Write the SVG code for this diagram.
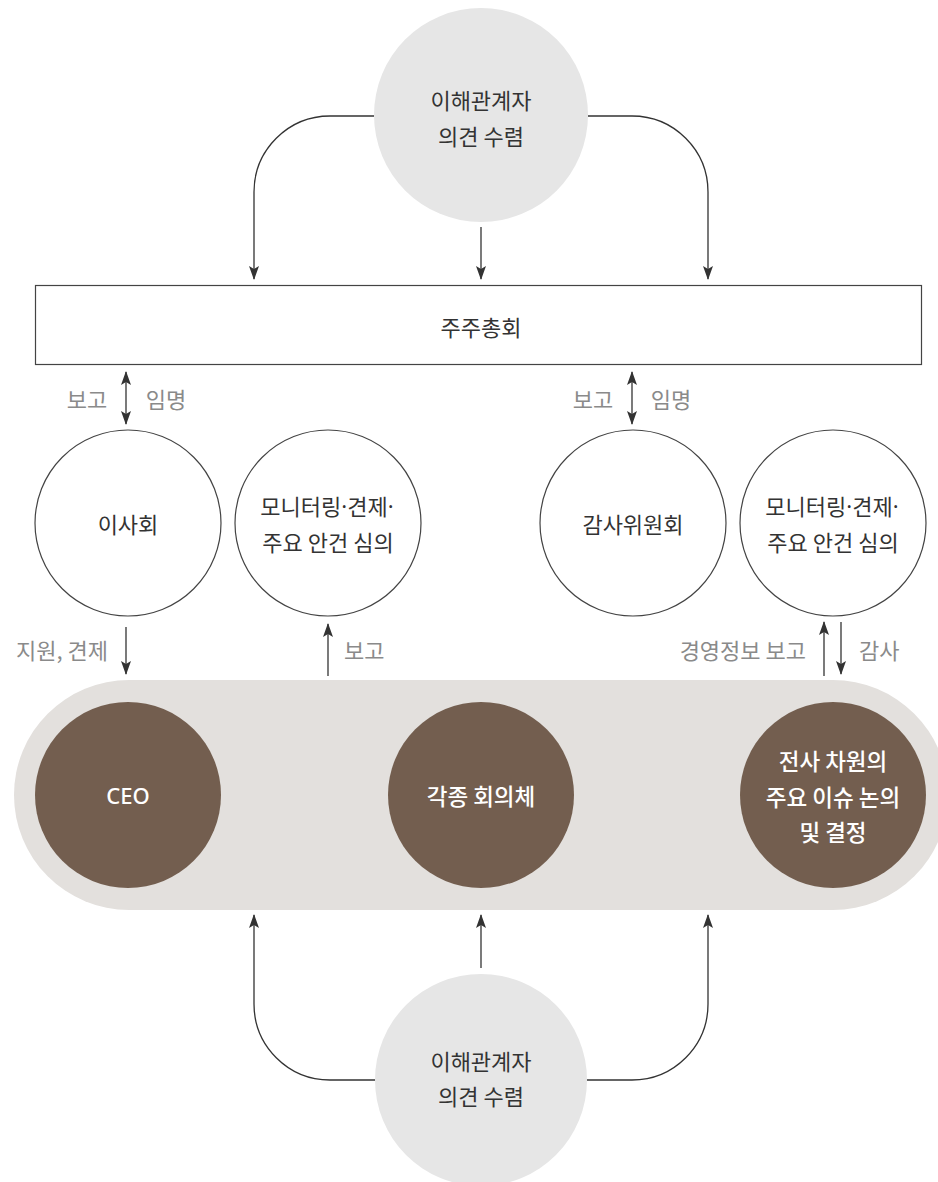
<svg xmlns="http://www.w3.org/2000/svg" width="938" height="1182" viewBox="0 0 938 1182">
<style>
text{font-family:"Noto Sans CJK KR","Noto Sans",sans-serif;text-anchor:middle;dominant-baseline:central;}
.t{font-size:22px;fill:#333;}
.lbl{font-size:22px;fill:#8a8a8a;}
.w{font-size:22.5px;fill:#fff;font-weight:500;}
.wc{font-size:22px;fill:#fff;font-weight:500;font-family:"Noto Sans","Noto Sans CJK KR",sans-serif;}
.dot{font-family:"Noto Sans",sans-serif;}
.ln{fill:none;stroke:#333;stroke-width:1.3;}
.oc{fill:#fff;stroke:#444;stroke-width:1.2;}
.gc{fill:#e6e6e6;}
.dc{fill:#735e4f;}
</style>
<defs>
<marker id="ah" viewBox="0 0 14 10" refX="13" refY="5" markerWidth="14" markerHeight="10" markerUnits="userSpaceOnUse" orient="auto-start-reverse">
<path d="M0,0 L14,5 L0,10 L3,5 z" fill="#333"/>
</marker>
</defs>

<g id="pill"><rect x="14" y="680" width="934" height="230" rx="115" ry="115" fill="#e3e0dd"/></g>

<g id="stakeholders-top"><circle class="gc" cx="481" cy="115" r="107"/><text class="t" x="481" y="99">이해관계자</text><text class="t" x="481" y="135">의견 수렴</text></g>

<g id="gm"><rect x="35.5" y="285.5" width="886" height="79" fill="#fff" stroke="#444" stroke-width="1.2"/><text class="t" x="481" y="326">주주총회</text></g>

<g id="board"><circle class="oc" cx="128" cy="523" r="93"/><text class="t" x="128" y="523">이사회</text></g>
<g id="board-role"><circle class="oc" cx="328" cy="523" r="93"/><text class="t" x="327" y="505">모니터링<tspan class="dot">·</tspan>견제<tspan class="dot">·</tspan></text><text class="t" x="328" y="541">주요 안건 심의</text></g>
<g id="audit"><circle class="oc" cx="633" cy="523" r="93"/><text class="t" x="633" y="523">감사위원회</text></g>
<g id="audit-role"><circle class="oc" cx="833" cy="523" r="93"/><text class="t" x="832" y="505">모니터링<tspan class="dot">·</tspan>견제<tspan class="dot">·</tspan></text><text class="t" x="833" y="541">주요 안건 심의</text></g>

<g id="ceo"><circle class="dc" cx="128" cy="795" r="93"/><text class="wc" x="128" y="795">CEO</text></g>
<g id="meetings"><circle class="dc" cx="481" cy="795" r="93"/><text class="w" x="481" y="795">각종 회의체</text></g>
<g id="decision"><circle class="dc" cx="833" cy="795" r="93"/><text class="w" x="833" y="760">전사 차원의</text><text class="w" x="833" y="796">주요 이슈 논의</text><text class="w" x="833" y="831">및 결정</text></g>

<g id="stakeholders-bottom"><circle class="gc" cx="481" cy="1080" r="106"/><text class="t" x="481" y="1060">이해관계자</text><text class="t" x="481" y="1095">의견 수렴</text></g>

<g id="connectors">
<path class="ln" d="M374,116 H330 A76,76 0 0 0 254,192 V279" marker-end="url(#ah)"/>
<path class="ln" d="M481,227 V279" marker-end="url(#ah)"/>
<path class="ln" d="M588,116 H632 A76,76 0 0 1 708,192 V279" marker-end="url(#ah)"/>

<path class="ln" d="M126,372 V424" marker-start="url(#ah)" marker-end="url(#ah)"/>
<path class="ln" d="M632,372 V424" marker-start="url(#ah)" marker-end="url(#ah)"/>

<path class="ln" d="M126,627 V674" marker-end="url(#ah)"/>
<path class="ln" d="M328,676 V624" marker-end="url(#ah)"/>
<path class="ln" d="M824,676 V622" marker-end="url(#ah)"/>
<path class="ln" d="M841,622 V674" marker-end="url(#ah)"/>

<path class="ln" d="M375,1080 H330 A76,76 0 0 1 254,1004 V915" marker-end="url(#ah)"/>
<path class="ln" d="M481,968 V915" marker-end="url(#ah)"/>
<path class="ln" d="M587,1080 H632 A76,76 0 0 0 708,1004 V915" marker-end="url(#ah)"/>
</g>

<g id="labels">
<text class="lbl" x="87" y="398">보고</text>
<text class="lbl" x="166" y="398">임명</text>
<text class="lbl" x="593" y="398">보고</text>
<text class="lbl" x="671" y="398">임명</text>
<text class="lbl" x="108" y="649" style="text-anchor:end">지원, 견제</text>
<text class="lbl" x="344" y="649" style="text-anchor:start">보고</text>
<text class="lbl" x="806" y="649" style="text-anchor:end">경영정보 보고</text>
<text class="lbl" x="859" y="649" style="text-anchor:start">감사</text>
</g>
</svg>
